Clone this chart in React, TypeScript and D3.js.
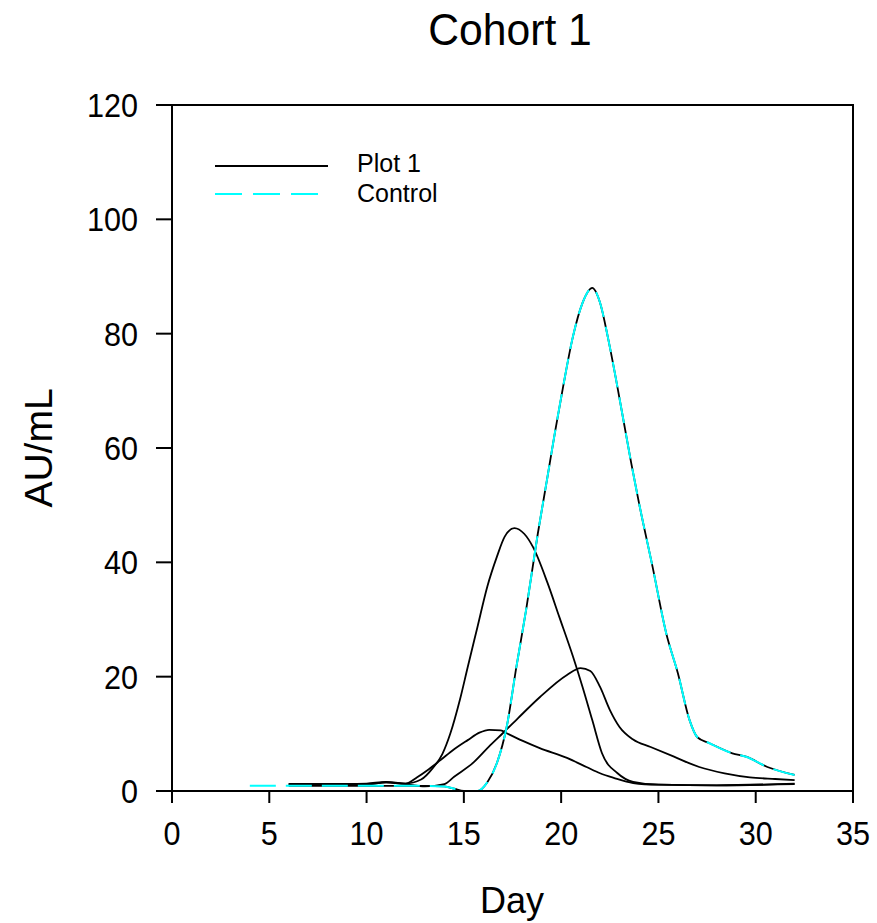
import React from "react";
import * as d3 from "d3";

type Pt = [number, number];

const title = "Cohort 1";
const xLabel = "Day";
const yLabel = "AU/mL";
const xTicks = [0, 5, 10, 15, 20, 25, 30, 35];
const yTicks = [0, 20, 40, 60, 80, 100, 120];
const legendLabels = ["Plot 1", "Control"];

// Plot 1 series (black)
const plot1A: Pt[] = [
  [6, 1.2], [8, 1.2], [10, 1.3], [11, 1.6], [12, 1.3], [12.8, 2], [13.4, 4], [13.9, 6.5],
  [14.3, 10], [14.8, 16], [15.2, 21.7], [15.7, 28.7], [16.2, 35.7], [16.7, 41], [17.1, 44.5],
  [17.6, 46], [18.1, 45], [18.55, 42.7], [19.3, 36.4], [19.9, 30.5], [20.6, 23.6], [21.1, 18.2],
  [21.6, 12.4], [22.1, 6.6], [22.9, 3.1], [23.7, 1.6], [25, 1.1], [28, 1.0], [32, 1.2],
];
const plot1B: Pt[] = [
  [6, 1.2], [8, 1.2], [10, 1.2], [11, 1.5], [12, 1.2], [13, 0.8], [14, 1.2], [14.5, 2.5],
  [15.5, 5], [16.3, 7.8], [17, 10.1], [17.8, 12.8], [18.9, 16.4], [20.3, 20.3], [21, 21.5],
  [21.5, 21], [22, 18.2], [22.5, 14.2], [23, 11.2], [23.7, 9], [24.6, 7.7], [25.8, 6],
  [27.1, 4.2], [28.4, 3.1], [29.7, 2.4], [31, 2.1], [32, 1.9],
];
const plot1C: Pt[] = [
  [6, 1.2], [8, 1.2], [10, 1.2], [11, 1.5], [12, 1.3], [12.6, 2.4], [13.2, 3.8], [13.8, 5.4],
  [14.5, 7.3], [15.2, 8.9], [15.8, 10.2], [16.3, 10.7], [16.9, 10.6], [17.2, 10.1], [18, 8.8],
  [18.9, 7.5], [20.3, 5.8], [21.3, 4.2], [22, 3.1], [22.7, 2.3], [23.7, 1.4], [25, 1.1],
  [28, 1.0], [32, 1.3],
];
const plot1D: Pt[] = [
  [6, 0.9], [8, 0.9], [10, 0.9], [12, 0.9], [13, 0.9], [14, 0.8], [14.5, 0.4], [15, 0],
  [15.7, 0], [16.2, 1.5], [16.7, 4.9], [17.2, 11.2], [17.7, 21.7], [18.2, 31.7], [18.8, 45],
  [19.3, 55], [19.7, 63.1], [20.1, 70.7], [20.6, 79.4], [21.1, 85.4], [21.6, 88], [22.0, 85.4],
  [22.4, 79.4], [22.8, 72.4], [23.2, 64.9], [23.6, 57.4], [24.0, 50.4], [24.7, 39.2],
  [25.4, 27.6], [26.0, 20.6], [26.6, 12.4], [27.0, 9.4], [27.6, 8.4], [28.8, 6.6], [29.5, 6],
  [30.6, 4.2], [32, 2.8],
];
// Control series (cyan dashed)
const control: Pt[] = [
  [4, 0.9], [6, 0.9], [8, 0.9], [10, 0.9], [12, 0.9], [13, 0.9], [14, 0.8], [14.5, 0.4], [15, 0],
  [15.7, 0], [16.2, 1.5], [16.7, 4.9], [17.2, 11.2], [17.7, 21.7], [18.2, 31.7], [18.8, 45],
  [19.3, 55], [19.7, 63.1], [20.1, 70.7], [20.6, 79.4], [21.1, 85.4], [21.6, 88], [22.0, 85.4],
  [22.4, 79.4], [22.8, 72.4], [23.2, 64.9], [23.6, 57.4], [24.0, 50.4], [24.7, 39.2],
  [25.4, 27.6], [26.0, 20.6], [26.6, 12.4], [27.0, 9.4], [27.6, 8.4], [28.8, 6.6], [29.5, 6],
  [30.6, 4.2], [32, 2.8],
];

const plot1Series = [plot1A, plot1B, plot1C, plot1D];

const W = 877;
const H = 923;
const L = 172, R = 853, T = 105, B = 791;
const FONT = "'Liberation Sans', Arial, sans-serif";

export default function App() {
  const x = d3.scaleLinear().domain([0, 35]).range([L, R]);
  const y = d3.scaleLinear().domain([0, 120]).range([B, T]);
  const line = d3
    .line<Pt>()
    .x((d) => x(d[0]))
    .y((d) => y(d[1]))
    .curve(d3.curveMonotoneX);

  return (
    <svg
      width={W}
      height={H}
      style={{ position: "absolute", left: 0, top: 0, background: "#fff" }}
      fontFamily={FONT}
    >
      <rect x={0} y={0} width={W} height={H} fill="#fff" />
      <text transform={`translate(510,45) scale(0.97,1)`} fontSize={44} textAnchor="middle" fill="#000">
        {title}
      </text>

      {/* curves */}
      <g fill="none">
        {plot1Series.map((s, i) => (
          <path key={i} d={line(s) || ""} stroke="#000" strokeWidth={1.8} />
        ))}
        <path d={line(control) || ""} stroke="#00ffff" strokeWidth={2} strokeDasharray="26,10" />
      </g>

      {/* frame */}
      <rect x={L} y={T} width={R - L} height={B - T} fill="none" stroke="#000" strokeWidth={2} />

      {/* y ticks */}
      {yTicks.map((t) => (
        <g key={"y" + t}>
          <line x1={L - 16} x2={L} y1={y(t)} y2={y(t)} stroke="#000" strokeWidth={2} />
          <text
            transform={`translate(138,${y(t) + 12}) scale(0.9,1)`}
            fontSize={34}
            textAnchor="end"
            fill="#000"
          >
            {t}
          </text>
        </g>
      ))}
      {/* x ticks */}
      {xTicks.map((t) => (
        <g key={"x" + t}>
          <line x1={x(t)} x2={x(t)} y1={B} y2={B + 12} stroke="#000" strokeWidth={2} />
          <text
            transform={`translate(${x(t)},845) scale(0.9,1)`}
            fontSize={34}
            textAnchor="middle"
            fill="#000"
          >
            {t}
          </text>
        </g>
      ))}

      <text x={512} y={913} fontSize={36} textAnchor="middle" fill="#000">
        {xLabel}
      </text>
      <text
        transform={`translate(52,448) rotate(-90)`}
        fontSize={39}
        textAnchor="middle"
        fill="#000"
      >
        {yLabel}
      </text>

      {/* legend */}
      <line x1={215} x2={328} y1={166} y2={166} stroke="#000" strokeWidth={2} />
      <text x={357} y={172} fontSize={25} fill="#000">
        {legendLabels[0]}
      </text>
      <line
        x1={215}
        x2={320}
        y1={194}
        y2={194}
        stroke="#00ffff"
        strokeWidth={2}
        strokeDasharray="27,11"
      />
      <text x={357} y={202} fontSize={25} fill="#000">
        {legendLabels[1]}
      </text>
    </svg>
  );
}
